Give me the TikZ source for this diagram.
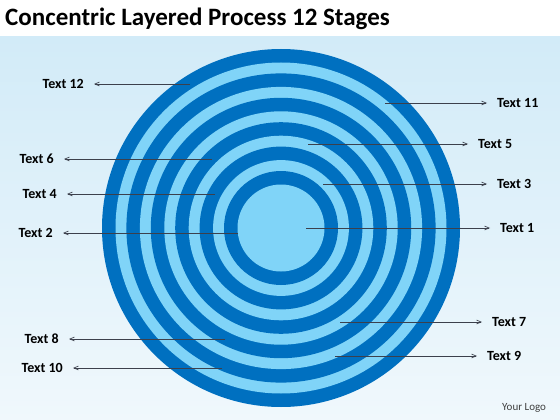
\documentclass[tikz,border=0pt]{standalone}
\usepackage{fontspec}
\setmainfont{Carlito}
\usetikzlibrary{arrows}

\definecolor{ringdark}{RGB}{0,112,192}
\definecolor{ringlight}{RGB}{128,212,248}
\definecolor{bgblue}{RGB}{210,235,248}
\definecolor{bgpale}{RGB}{240,248,252}
\definecolor{leader}{RGB}{60,64,76}

\begin{document}
\begin{tikzpicture}[%
    x=1pt, y=-1pt,              % Work in pixels, y running down
    >=angle 45,                 % Thin open heads as in the slide
    ]
% -------------------------------------------------
% Styles for texts and leader lines
\tikzset{
  lbl/.style={font=\fontsize{14}{16}\selectfont\bfseries, inner sep=0pt},
  heading/.style={font=\fontsize{25}{29}\selectfont\bfseries, inner sep=0pt},
  logo/.style={font=\fontsize{11}{13}\selectfont, text=black!75, inner sep=0pt},
  lead/.style={->, leader, line width=0.7pt, shorten >=10pt},
}
\useasboundingbox (0,0) rectangle (560,420);
\fill[white] (0,0) rectangle (560,420);
\shade[top color=bgblue, bottom color=bgpale] (0,37) rectangle (560,420);

% -------------------------------------------------
% The rings, dark and light by turns
\coordinate (c) at (281,228);
\foreach \i in {0,...,5} {
  \fill[ringdark] (c) circle ({179pt-24.4pt*\i});
  \fill[ringlight] (c) circle ({165.5pt-24.4pt*\i});
}

% -------------------------------------------------
% Texts
\node [heading, anchor=base west] (title) at (5,26) {Concentric Layered Process 12 Stages};
\node [lbl, anchor=west] (t1) at (500,228) {Text 1};
\node [lbl, anchor=east] (t2) at (53,233) {Text 2};
\node [lbl, anchor=west] (t3) at (497,184) {Text 3};
\node [lbl, anchor=east] (t4) at (57,194) {Text 4};
\node [lbl, anchor=west] (t5) at (478,144) {Text 5};
\node [lbl, anchor=east] (t6) at (54,159) {Text 6};
\node [lbl, anchor=west] (t7) at (492,322) {Text 7};
\node [lbl, anchor=east] (t8) at (59,339) {Text 8};
\node [lbl, anchor=west] (t9) at (487,356) {Text 9};
\node [lbl, anchor=east] (t10) at (63,368) {Text 10};
\node [lbl, anchor=west] (t11) at (497,103) {Text 11};
\node [lbl, anchor=east] (t12) at (84,84) {Text 12};
\node [logo, anchor=west] (logo) at (502,408) {Your Logo};

% Where each leader leaves the rings
\coordinate (s1) at (306,228);
\coordinate (s2) at (238,233);
\coordinate (s3) at (323,184);
\coordinate (s4) at (215,194);
\coordinate (s5) at (308,144);
\coordinate (s6) at (212,159);
\coordinate (s7) at (340,322);
\coordinate (s8) at (225,339);
\coordinate (s9) at (335,356);
\coordinate (s10) at (222,368);
\coordinate (s11) at (385,103);
\coordinate (s12) at (190,84);

\draw[lead] (s1) -- (t1);	%centre disc
\draw[lead] (s2) -- (t2);
\draw[lead] (s3) -- (t3);
\draw[lead] (s4) -- (t4);
\draw[lead] (s5) -- (t5);
\draw[lead] (s6) -- (t6);
\draw[lead] (s7) -- (t7);
\draw[lead] (s8) -- (t8);
\draw[lead] (s9) -- (t9);
\draw[lead] (s10) -- (t10);
\draw[lead] (s11) -- (t11);
\draw[lead] (s12) -- (t12);	%outer ring

% -------------------------------------------------
\end{tikzpicture}
\end{document}
